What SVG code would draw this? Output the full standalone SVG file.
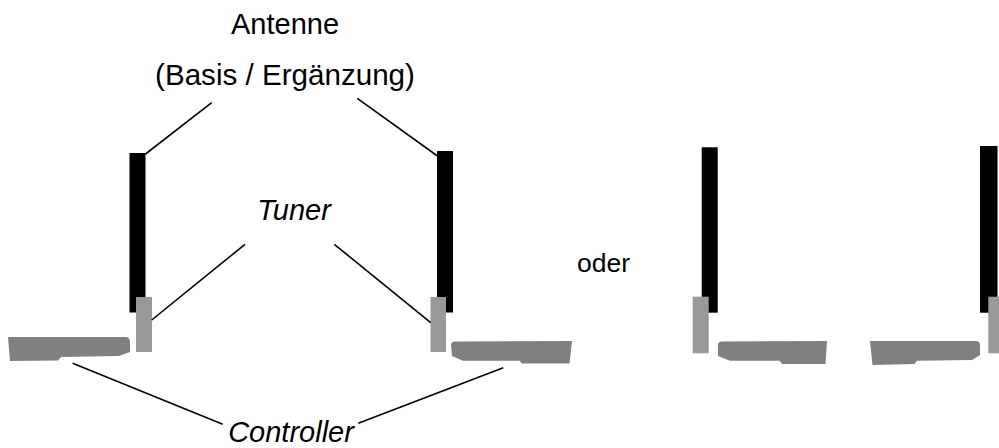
<svg xmlns="http://www.w3.org/2000/svg" width="999" height="448" viewBox="0 0 999 448">
  <style>
    .label { font-family: "Liberation Sans", Arial, sans-serif; fill: #000; text-anchor: middle; }
    .it { font-style: italic; }
    .antenna { fill: #000; }
    .tuner { fill: #999999; }
    .ctrl { fill: #808080; }
    .conn line { stroke: #000; stroke-width: 1.6; }
  </style>
  <rect width="999" height="448" fill="#fff"/>

  <!-- labels -->
  <g id="label-antenne">
    <text class="label" x="285" y="34" font-size="29">Antenne</text>
    <text class="label" x="285" y="85" font-size="29.6">(Basis / Ergänzung)</text>
  </g>
  <g id="label-tuner"><text class="label it" x="294" y="220" font-size="29">Tuner</text></g>
  <g id="label-controller"><text class="label it" x="291" y="442" font-size="29">Controller</text></g>
  <g id="label-oder"><text class="label" x="603.5" y="272" font-size="26.5">oder</text></g>

  <!-- variant A, left unit -->
  <g id="unit-a-left">
    <rect class="antenna" x="129.5" y="153" width="16" height="159.5"/>
    <rect class="tuner" x="136" y="297" width="16" height="55"/>
    <path class="ctrl" d="M8,337 L126,337 Q130,337.5 130,342 L130,352 L119,356 L61,357 L58,360.5 L10,361 Z"/>
  </g>

  <!-- variant A, right unit -->
  <g id="unit-a-right">
    <rect class="antenna" x="437" y="151" width="16" height="161.5"/>
    <rect class="tuner" x="430.5" y="297" width="15.5" height="55"/>
    <path class="ctrl" d="M455,341.5 L572,341 L569.5,363.5 L522,363.5 L519.5,360.7 L463,360.7 L452,356 L451,345 Q451,341.5 455,341.5 Z"/>
  </g>

  <!-- variant B, left unit -->
  <g id="unit-b-left">
    <rect class="antenna" x="701.7" y="147.3" width="16" height="165.4"/>
    <rect class="tuner" x="692.7" y="296.7" width="16" height="56.6"/>
    <path class="ctrl" d="M722,341.5 L827,341 L825.5,364 L782,364 L779.5,360.7 L730,360.7 L718,356 L718,345 Q718,341.5 722,341.5 Z"/>
  </g>

  <!-- variant B, right unit -->
  <g id="unit-b-right">
    <rect class="antenna" x="980" y="146" width="17.5" height="166.7"/>
    <rect class="tuner" x="988.3" y="296.7" width="16" height="56.6"/>
    <path class="ctrl" d="M870,341 L976.5,341 Q980,341.5 980,345 L980,355 L972,360 L917,360.7 L914.5,364 L872.5,365 Z"/>
  </g>

  <!-- leader lines -->
  <g id="connectors" class="conn">
    <line x1="211.7" y1="102.7" x2="145.5" y2="154"/>
    <line x1="357.3" y1="98.3" x2="437.5" y2="156"/>
    <line x1="245" y1="244.3" x2="151.7" y2="320"/>
    <line x1="334.3" y1="244.3" x2="430.7" y2="322.7"/>
    <line x1="72.7" y1="363.3" x2="222.7" y2="424.3"/>
    <line x1="358.3" y1="423.3" x2="503.3" y2="367.7"/>
  </g>
</svg>
